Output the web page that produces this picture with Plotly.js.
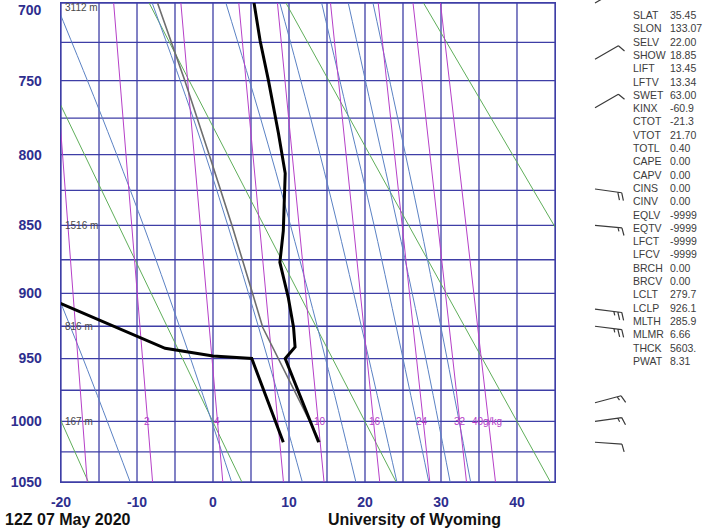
<!DOCTYPE html>
<html>
<head>
<meta charset="utf-8">
<script src="https://cdn.plot.ly/plotly-3.0.1.min.js"></script>
<style>
  html, body { margin: 0; padding: 0; background: #fff; }
  #chart { width: 703px; height: 528px; }
</style>
</head>
<body>
<div id="chart"></div>
<script>
// ---------------- DATA ----------------
// Sounding: temperature (C) and dewpoint (C) against pressure (hPa)
const tempP = [700, 724, 750, 785, 813, 854, 877, 903, 926, 941, 950, 1017];
const tempC = [5.4, 6.2, 7.3, 8.6, 9.5, 9.25, 8.8, 9.9, 10.6, 10.8, 9.5, 13.9];
const dewP = [900, 942, 948, 950, 1017];
const dewC = [-23.2, -6.3, 0.0, 5.1, 9.25];
// Lifted parcel path
const parcelP = [1017, 926, 900, 850, 800, 750, 700];
const parcelC = [14.1, 6.55, 5.2, 2.5, -0.5, -3.7, -7.3];

// Axis grids
const isobars = [700, 725, 750, 775, 800, 825, 850, 875, 900, 925, 950, 975, 1000, 1025, 1050];
const isobarLabels = ['700', '', '750', '', '800', '', '850', '', '900', '', '950', '', '1000', '', '1050'];
const isotherms = [-20, -15, -10, -5, 0, 5, 10, 15, 20, 25, 30, 35, 40, 45];
const isothermLabels = ['-20', '', '-10', '', '0', '', '10', '', '20', '', '30', '', '40', ''];

// Dry adiabats (theta = 253..333 K): temperature at 1050 and 700 hPa
const dryT1050 = [-16.4, 3.8, 24.1, 44.4, 64.7];
const dryT700 = [-44.6, -26.5, -8.4, 9.6, 27.7];

// Mixing-ratio lines (g/kg): temperature at 1050 and 700 hPa
const mixRatio = [1, 2, 4, 7, 10, 16, 24, 32, 40];
const mixT1050 = [-16.55, -7.95, 1.29, 9.27, 14.61, 21.94, 28.53, 33.36, 37.17];
const mixT700 = [-21.3, -13.07, -4.23, 3.39, 8.48, 15.46, 21.74, 26.32, 29.93];
const mixLabelText = ['2', '4', '10', '16', '24', '32', '40g/kg'];
const mixLabelT = [-8.7, 0.5, 14.1, 21.3, 27.5, 32.5, 36.0];

// Moist adiabats: temperature at these pressure levels
const moistP = [1050, 950, 850, 775, 700];
const moistT = [
  [-10.9, -17.1, -24.2, -30.1, -37.1],
  [2.45, -2.95, -9.15, -14.55, -20.7],
  [11.75, 7.2, 1.95, -2.6, -8.0],
  [18.8, 14.8, 10.2, 6.25, 1.7],
  [24.2, 20.5, 16.4, 12.85, 8.8],
  [28.4, 25.0, 21.2, 17.85, 14.3],
  [31.2, 28.0, 24.3, 21.15, 17.8],
  [33.9, 30.8, 27.3, 24.3, 21.05]
];

// Station height labels
const heightText = ['3112 m', '1516 m', '816 m', '167 m'];
const heightP = [700, 850, 925, 1000];

// Station indices
const indexNames = ['SLAT','SLON','SELV','SHOW','LIFT','LFTV','SWET','KINX','CTOT','VTOT','TOTL','CAPE','CAPV','CINS','CINV','EQLV','EQTV','LFCT','LFCV','BRCH','BRCV','LCLT','LCLP','MLTH','MLMR','THCK','PWAT'];
const indexValues = ['35.45','133.07','22.00','18.85','13.45','13.34','63.00','-60.9','-21.3','21.70','0.40','0.00','0.00','0.00','0.00','-9999','-9999','-9999','-9999','0.00','0.00','279.7','926.1','285.9','6.66','5603.','8.31'];

// Winds
const windP = [700, 736, 768, 824, 850, 912, 925, 985, 1000, 1017];
const windDir = [60, 60, 60, 98, 95, 97, 97, 75, 82, 94];
const windKt = [10, 10, 10, 20, 15, 25, 25, 15, 15, 10];

// ---------------- DRAWING ----------------
const K = 0.286;
const yk = p => Math.pow(p, K);

const W = 703, H = 528;
const M = {l: 61, r: 148, t: 3, b: 46};
const PW = W - M.l - M.r, PH = H - M.t - M.b;
const px2X = x => (x - M.l) / PW;
const py2Y = y => (H - M.b - y) / PH;
const pyOfP = p => M.t + (yk(p) - yk(700)) / (yk(1050) - yk(700)) * PH;

const GRID = '#3e3ea6';
const GREEN = '#5fae5a';
const BLUE = '#5b82c4';
const PURPLE = '#b640c8';
const FONT = 'Liberation Sans, Arial, sans-serif';
const TICKFONT = {family: FONT, size: 14, color: '#2e2e8e'};

const traces = [];

// grid (isobars + isotherms)
const gx = [], gy = [];
isobars.forEach(p => { gx.push(-20, 45, null); gy.push(yk(p), yk(p), null); });
isotherms.forEach(t => { gx.push(t, t, null); gy.push(yk(1050), yk(700), null); });
traces.push({x: gx, y: gy, mode: 'lines', line: {color: GRID, width: 1.3},
  hoverinfo: 'skip', showlegend: false, connectgaps: false});

dryT1050.forEach((t, i) => {
  traces.push({x: [t, dryT700[i]], y: [yk(1050), yk(700)], mode: 'lines',
    line: {color: GREEN, width: 1}, hoverinfo: 'skip', showlegend: false});
});
moistT.forEach(arr => {
  traces.push({x: arr, y: moistP.map(yk), mode: 'lines',
    line: {color: BLUE, width: 1, shape: 'spline'}, hoverinfo: 'skip', showlegend: false});
});
mixRatio.forEach((w, i) => {
  traces.push({x: [mixT1050[i], mixT700[i]], y: [yk(1050), yk(700)], mode: 'lines',
    line: {color: PURPLE, width: 1}, hoverinfo: 'skip', showlegend: false});
});
traces.push({x: parcelC, y: parcelP.map(yk), mode: 'lines',
  line: {color: '#6e6e6e', width: 1.6}, showlegend: false});
traces.push({x: dewC, y: dewP.map(yk), mode: 'lines',
  line: {color: '#000', width: 3}, showlegend: false});
traces.push({x: tempC, y: tempP.map(yk), mode: 'lines',
  line: {color: '#000', width: 3}, showlegend: false});

const annotations = [];
// top isobar label sits at the very top edge: keep it just inside the picture
annotations.push({x: px2X(44), y: py2Y(0), xref: 'paper', yref: 'paper', text: '<b>' + isobarLabels[0] + '</b>',
  showarrow: false, xanchor: 'right', yanchor: 'top', font: TICKFONT});
heightText.forEach((s, i) => {
  const top = i === 0;
  annotations.push({x: -19.7, y: top ? py2Y(0) : yk(heightP[i]), xref: 'x', yref: top ? 'paper' : 'y',
    text: s, showarrow: false, xanchor: 'left', yanchor: top ? 'top' : 'middle',
    font: {family: FONT, size: 10, color: '#4a4a4a'}});
});
mixLabelText.forEach((s, i) => {
  annotations.push({x: mixLabelT[i], y: yk(1000), xref: 'x', yref: 'y', text: s, showarrow: false,
    xanchor: 'center', yanchor: 'middle', font: {family: FONT, size: 10, color: PURPLE}});
});
indexNames.forEach((s, i) => {
  const yy = py2Y(15 + 13.3 * i);
  annotations.push({x: px2X(631), y: yy, xref: 'paper', yref: 'paper', text: s, showarrow: false,
    xanchor: 'left', yanchor: 'middle', font: {family: FONT, size: 10.5, color: '#3c3c3c'}});
  annotations.push({x: px2X(668), y: yy, xref: 'paper', yref: 'paper', text: indexValues[i], showarrow: false,
    xanchor: 'left', yanchor: 'middle', font: {family: FONT, size: 10.5, color: '#3c3c3c'}});
});
annotations.push({x: px2X(3), y: py2Y(519), xref: 'paper', yref: 'paper', text: '<b>12Z 07 May 2020</b>',
  showarrow: false, xanchor: 'left', yanchor: 'middle', font: {family: FONT, size: 16, color: '#111'}});
annotations.push({x: px2X(414), y: py2Y(519), xref: 'paper', yref: 'paper', text: '<b>University of Wyoming</b>',
  showarrow: false, xanchor: 'center', yanchor: 'middle', font: {family: FONT, size: 16, color: '#111'}});

// Wind barbs
const shapes = [];
windP.forEach((p, i) => {
  const bx = 595, by = pyOfP(p);
  const L = 27, sp = 4, fl = 8;
  const r = windDir[i] * Math.PI / 180;
  const ux = Math.sin(r), uy = -Math.cos(r);
  const tx = bx + ux * L, ty = by + uy * L;
  const a = 70 * Math.PI / 180;
  const fx = ux * Math.cos(a) - uy * Math.sin(a), fy = ux * Math.sin(a) + uy * Math.cos(a);
  const P = (x, y) => px2X(x).toFixed(5) + ',' + py2Y(y).toFixed(5);
  let path = 'M' + P(bx, by) + ' L' + P(tx, ty);
  const full = Math.floor(windKt[i] / 10);
  const half = (windKt[i] % 10) >= 5;
  for (let k = 0; k < full; k++) {
    const sx = tx - ux * k * sp, sy = ty - uy * k * sp;
    path += ' M' + P(sx, sy) + ' L' + P(sx + fx * fl, sy + fy * fl);
  }
  if (half) {
    const k = full === 0 ? 1 : full;
    const sx = tx - ux * k * sp, sy = ty - uy * k * sp;
    path += ' M' + P(sx, sy) + ' L' + P(sx + fx * fl / 2, sy + fy * fl / 2);
  }
  shapes.push({type: 'path', xref: 'paper', yref: 'paper', path: path,
    line: {color: '#3a3a3a', width: 1.2}});
});

const eps = 1e-6;
const layout = {
  width: W, height: H,
  margin: M,
  paper_bgcolor: '#fff', plot_bgcolor: '#fff',
  showlegend: false,
  xaxis: {
    range: [-20 - 0.001, 45 + 0.001], tickmode: 'array', tickvals: isotherms,
    ticktext: isothermLabels.map(s => s ? '<b>' + s + '</b>' : ''),
    showgrid: false, zeroline: false,
    showline: true, mirror: true, linecolor: GRID, linewidth: 1.3,
    ticks: 'outside', ticklen: 7, tickcolor: 'rgba(0,0,0,0)',
    tickfont: TICKFONT, fixedrange: true
  },
  yaxis: {
    range: [yk(1050) + eps, yk(700) - eps], tickmode: 'array', tickvals: isobars.map(yk),
    ticktext: isobarLabels.map((s, i) => (s && i > 0) ? '<b>' + s + '</b>' : ''),
    showgrid: false, zeroline: false,
    showline: true, mirror: true, linecolor: GRID, linewidth: 1.3,
    ticks: 'outside', ticklen: 15, tickcolor: 'rgba(0,0,0,0)',
    tickfont: TICKFONT, fixedrange: true
  },
  annotations: annotations,
  shapes: shapes
};

Plotly.newPlot('chart', traces, layout, {displayModeBar: false, staticPlot: true});
</script>
</body>
</html>
